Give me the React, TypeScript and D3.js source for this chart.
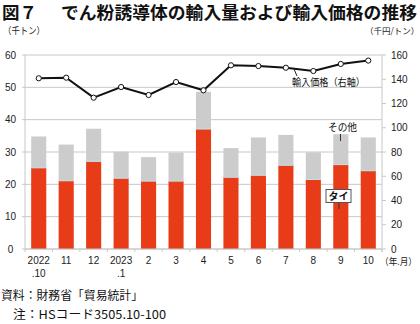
import React from "react";
import * as d3 from "d3";

const categories = ["2022\n.10", "11", "12", "2023\n.1", "2", "3", "4", "5", "6", "7", "8", "9", "10"];
const taiValues = [25.1, 21.1, 27.1, 21.9, 21.0, 21.0, 37.1, 22.2, 22.8, 25.9, 21.5, 26.1, 24.2];
const totalValues = [34.8, 32.3, 37.2, 30.1, 28.4, 29.8, 48.6, 31.2, 34.5, 35.3, 29.9, 35.5, 34.5];
const priceValues = [140.8, 141.3, 124.8, 133.6, 127.0, 137.7, 130.9, 151.5, 150.9, 149.5, 146.8, 152.6, 155.4];
const leftTicks = [0, 10, 20, 30, 40, 50, 60];
const rightTicks = [0, 20, 40, 60, 80, 100, 120, 140, 160];

const JP = "'Noto Sans CJK JP', 'Noto Sans', sans-serif";
const NUM = "'Liberation Sans', Arial, sans-serif";

export default function App() {
  const W = 420, H = 324;
  const x0 = 25, x1 = 382, yTop = 55, yBot = 249;
  const x = d3.scaleBand<string>().domain(categories).range([x0, x1]).paddingInner(0.45).paddingOuter(0.225);
  const yL = d3.scaleLinear().domain([0, 60]).range([yBot, yTop]);
  const yR = d3.scaleLinear().domain([0, 160]).range([yBot, yTop]);
  const step = x.step();
  const cx = (c: string) => (x(c) as number) + x.bandwidth() / 2;
  const line = d3.line<number>().x((_, i) => cx(categories[i])).y((d) => yR(d));
  const grid = "#c8c8c8";

  return (
    <div style={{ position: "absolute", left: 0, top: 0 }}>
      <svg width={W} height={H} style={{ display: "block", background: "#fff" }}>
        <text x={2} y={19} fontFamily={JP} fontWeight={700} fontSize={17.5} fill="#111">図７</text>
        <text x={61} y={19} fontFamily={JP} fontWeight={700} fontSize={17.5} fill="#111" textLength={356} lengthAdjust="spacingAndGlyphs">でん粉誘導体の輸入量および輸入価格の推移</text>
        <text x={3} y={34} fontFamily={JP} fontSize={9.5} fill="#222" textLength={42} lengthAdjust="spacingAndGlyphs">（千トン）</text>
        <text x={365} y={34} fontFamily={JP} fontSize={8.5} fill="#222">（千円/トン）</text>

        {/* gridlines + left ticks */}
        {leftTicks.map((t) => (
          <g key={"g" + t}>
            <line x1={x0 - 3} x2={x1} y1={yL(t)} y2={yL(t)} stroke={grid} strokeWidth={1} />
            <text x={10.5} y={yL(t) + 3.5} textAnchor="middle" fontFamily={NUM} fontSize={10} fill="#222">{t}</text>
          </g>
        ))}

        {/* bars */}
        {categories.map((c, i) => (
          <g key={"b" + i}>
            <rect x={x(c)} width={x.bandwidth()} y={yL(totalValues[i])} height={yL(taiValues[i]) - yL(totalValues[i])} fill="#cccccc" />
            <rect x={x(c)} width={x.bandwidth()} y={yL(taiValues[i])} height={yL(0) - yL(taiValues[i])} fill="#e83c18" />
            <line x1={x(c)} x2={(x(c) as number) + x.bandwidth()} y1={yL(taiValues[i])} y2={yL(taiValues[i])} stroke="#bfe3ee" strokeWidth={1} />
          </g>
        ))}

        {/* axes */}
        <line x1={x0} x2={x0} y1={yTop} y2={yBot + 3} stroke={grid} />
        <line x1={x1} x2={x1} y1={yTop} y2={yBot + 3} stroke={grid} />
        <line x1={x0} x2={x1} y1={yBot} y2={yBot} stroke={grid} />
        {categories.map((c, i) => (
          <line key={"t" + i} x1={x0 + step * (i + 1)} x2={x0 + step * (i + 1)} y1={yBot} y2={yBot + 3} stroke={grid} />
        ))}
        {rightTicks.map((t) => (
          <g key={"r" + t}>
            <line x1={x1} x2={x1 + 4} y1={yR(t)} y2={yR(t)} stroke={grid} />
            <text x={391} y={yR(t) + 3.5} fontFamily={NUM} fontSize={10} fill="#222">{t}</text>
          </g>
        ))}

        {/* x labels */}
        {categories.map((c, i) => {
          const parts = c.split("\n");
          return (
            <text key={"x" + i} x={cx(c)} textAnchor="middle" fontFamily={NUM} fontSize={10} fill="#222">
              <tspan x={cx(c)} y={264}>{parts[0]}</tspan>
              {parts[1] && <tspan x={cx(c)} y={277}>{parts[1]}</tspan>}
            </text>
          );
        })}
        <text x={380} y={265} fontFamily={JP} fontSize={9.5} fill="#222" textLength={37} lengthAdjust="spacingAndGlyphs">（年.月）</text>

        {/* price line */}
        <path d={line(priceValues) || ""} fill="none" stroke="#111" strokeWidth={2} />
        {priceValues.map((v, i) => (
          <circle key={"p" + i} cx={cx(categories[i])} cy={yR(v)} r={2.6} fill="#fff" stroke="#111" strokeWidth={1} />
        ))}

        {/* annotations */}
        <line x1={297} y1={76} x2={294} y2={69} stroke="#222" strokeWidth={1} />
        <text x={292} y={86} fontFamily={JP} fontSize={10} fill="#111" textLength={73} lengthAdjust="spacingAndGlyphs">輸入価格（右軸）</text>
        <text x={328} y={131} fontFamily={JP} fontSize={10} fill="#111" textLength={29} lengthAdjust="spacingAndGlyphs">その他</text>
        <line x1={340.5} y1={134} x2={340.5} y2={141} stroke="#333" strokeWidth={1} />
        <rect x={326} y={189.5} width={25} height={13} fill="#fff" stroke="#555" strokeWidth={1} />
        <text x={338.5} y={200} textAnchor="middle" fontFamily={JP} fontSize={10} fontWeight={700} fill="#111">タイ</text>
        <line x1={339} y1={203} x2={339} y2={209} stroke="#333" strokeWidth={1} />

        {/* footnotes */}
        <text x={1} y={300} fontFamily={JP} fontSize={12} fill="#111" textLength={142} lengthAdjust="spacingAndGlyphs">資料：財務省「貿易統計」</text>
        <text x={13} y={319} fontFamily={JP} fontSize={12} fill="#111" textLength={153} lengthAdjust="spacingAndGlyphs">注：HSコード3505.10-100</text>
      </svg>
    </div>
  );
}
